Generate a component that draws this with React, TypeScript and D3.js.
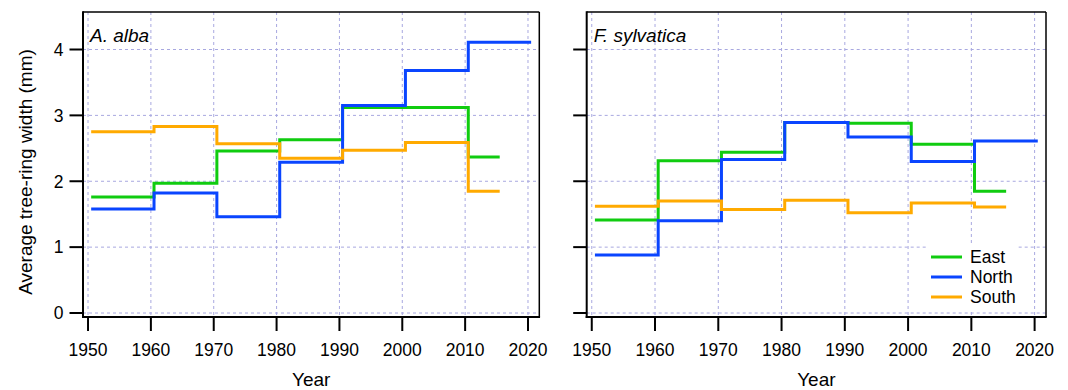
import React from "react";
import * as d3 from "d3";

const stepStarts = [1950.5, 1960.5, 1970.5, 1980.5, 1990.5, 2000.5, 2010.5];
const xTicks = [1950, 1960, 1970, 1980, 1990, 2000, 2010, 2020];
const yTicks = [0, 1, 2, 3, 4];
const seriesNames = ["East", "North", "South"];
const seriesEnds = [2015.5, 2020.5, 2015.5];

const albaEast = [1.76, 1.97, 2.46, 2.63, 3.12, 3.12, 2.37];
const albaNorth = [1.58, 1.82, 1.46, 2.29, 3.15, 3.68, 4.11];
const albaSouth = [2.75, 2.83, 2.57, 2.35, 2.47, 2.59, 1.85];

const sylvEast = [1.41, 2.31, 2.44, 2.89, 2.88, 2.56, 1.85];
const sylvNorth = [0.88, 1.4, 2.33, 2.89, 2.67, 2.3, 2.61];
const sylvSouth = [1.62, 1.7, 1.57, 1.71, 1.52, 1.67, 1.61];

const panelTitles = ["A. alba", "F. sylvatica"];
const COLORS = ["#10cc10", "#0a45ff", "#ffaa00"];
const FONT = "'Liberation Sans', Arial, sans-serif";
const GRID = "#a8a8e0";

const panels = [
  { title: panelTitles[0], left: 83, right: 539.3, series: [albaEast, albaNorth, albaSouth], yLabels: true },
  { title: panelTitles[1], left: 586.7, right: 1046, series: [sylvEast, sylvNorth, sylvSouth], yLabels: false },
];

const TOP = 12;
const BOTTOM = 317;
const y = d3.scaleLinear().domain([0, 4]).range([313, 49.5]);

function Panel({ p }: { p: (typeof panels)[number] }) {
  const x = d3.scaleLinear().domain([1949.2, 2021.8]).range([p.left, p.right]);
  const line = d3
    .line<[number, number]>()
    .x((d) => x(d[0]))
    .y((d) => y(d[1]))
    .curve(d3.curveStepAfter);
  const mid = (p.left + p.right) / 2;
  return (
    <g>
      {xTicks.map((t) => (
        <line key={"gx" + t} x1={x(t)} x2={x(t)} y1={TOP} y2={BOTTOM} stroke={GRID} strokeWidth={1} strokeDasharray="3,3" />
      ))}
      {yTicks.map((t) => (
        <line key={"gy" + t} x1={p.left} x2={p.right} y1={y(t)} y2={y(t)} stroke={GRID} strokeWidth={1} strokeDasharray="3,3" />
      ))}
      {p.series.map((vals, i) => {
        const pts: [number, number][] = stepStarts.map((s, j) => [s, vals[j]] as [number, number]);
        pts.push([seriesEnds[i], vals[vals.length - 1]]);
        return <path key={"s" + i} d={line(pts) || ""} fill="none" stroke={COLORS[i]} strokeWidth={3} />;
      })}
      <line x1={p.left} x2={p.right} y1={TOP} y2={TOP} stroke="#000" strokeWidth={1.5} />
      <line x1={p.right} x2={p.right} y1={TOP} y2={BOTTOM} stroke="#000" strokeWidth={1.5} />
      <line x1={p.left} x2={p.left} y1={TOP - 0.75} y2={BOTTOM + 1} stroke="#000" strokeWidth={2} />
      <line x1={p.left - 1} x2={p.right + 0.75} y1={BOTTOM} y2={BOTTOM} stroke="#000" strokeWidth={2} />
      {yTicks.map((t) => (
        <g key={"yt" + t}>
          <line x1={p.left - 13.5} x2={p.left} y1={y(t)} y2={y(t)} stroke="#000" strokeWidth={2} />
          {p.yLabels && (
            <text x={p.left - 19.5} y={y(t)} dy="0.36em" textAnchor="end" fontSize={17.5} fontFamily={FONT} fill="#000">
              {t}
            </text>
          )}
        </g>
      ))}
      {xTicks.map((t) => (
        <g key={"xt" + t}>
          <line x1={x(t)} x2={x(t)} y1={BOTTOM} y2={BOTTOM + 14} stroke="#000" strokeWidth={2} />
          <text x={x(t)} y={356} textAnchor="middle" fontSize={17.5} fontFamily={FONT} fill="#000">
            {t}
          </text>
        </g>
      ))}
      <text x={mid} y={386} textAnchor="middle" fontSize={19} fontFamily={FONT} fill="#000">
        Year
      </text>
      <text x={p.left + 7} y={42} fontSize={19} fontStyle="italic" fontFamily={FONT} fill="#000">
        {p.title}
      </text>
    </g>
  );
}

function Legend() {
  const lx = 931;
  const rows = [257, 277, 297];
  return (
    <g>
      <rect x={926} y={243} width={90} height={67} fill="#fff" />
      {seriesNames.map((n, i) => (
        <g key={n}>
          <line x1={lx} x2={lx + 31} y1={rows[i]} y2={rows[i]} stroke={COLORS[i]} strokeWidth={3} />
          <text x={970} y={rows[i]} dy="0.36em" fontSize={17.5} fontFamily={FONT} fill="#000">
            {n}
          </text>
        </g>
      ))}
    </g>
  );
}

export default function App() {
  return (
    <svg
      width={1068}
      height={390}
      style={{ position: "absolute", left: 0, top: 0, background: "#fff" }}
      xmlns="http://www.w3.org/2000/svg"
    >
      <rect x={0} y={0} width={1068} height={390} fill="#fff" />
      {panels.map((p, i) => (
        <Panel key={i} p={p} />
      ))}
      <Legend />
      <text
        transform="translate(31.5,172) rotate(-90)"
        textAnchor="middle"
        fontSize={19}
        fontFamily={FONT}
        fill="#000"
      >
        Average tree-ring width (mm)
      </text>
    </svg>
  );
}
